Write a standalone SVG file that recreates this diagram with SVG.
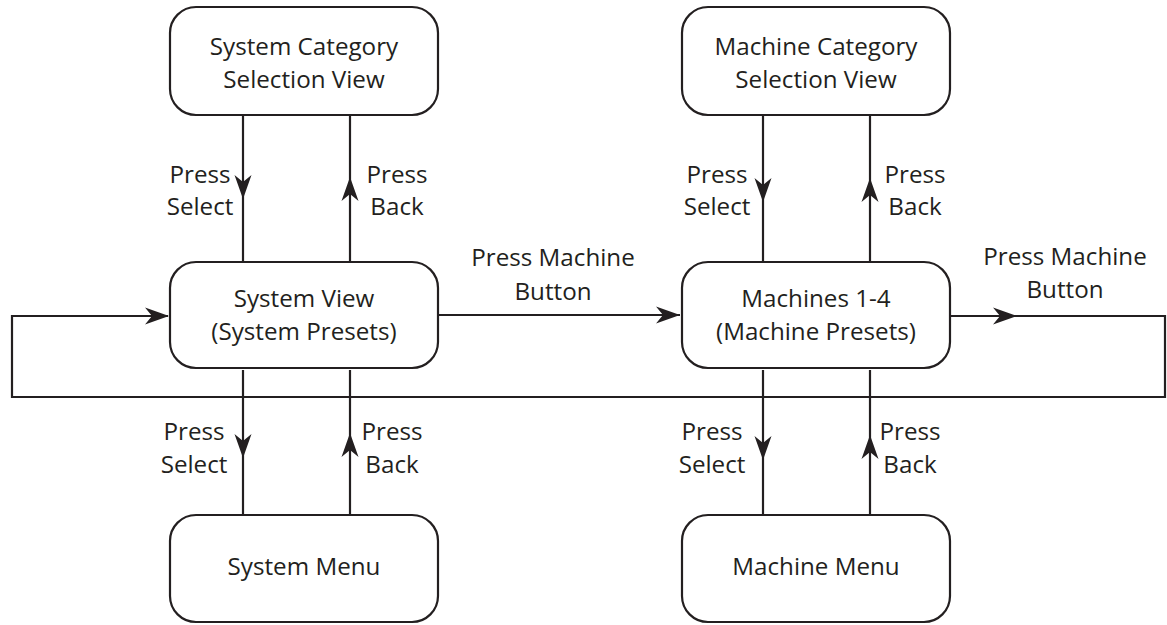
<svg xmlns="http://www.w3.org/2000/svg" xmlns:xlink="http://www.w3.org/1999/xlink" width="1167" height="625" viewBox="0 0 1167 625">
<style>
  .box { fill: #ffffff; stroke: #231f20; stroke-width: 2.2; }
  .ln { fill: none; stroke: #231f20; stroke-width: 2.2; }
  .ah { fill: #231f20; stroke: none; }
  text { font-family: "Open Sans", "Noto Sans", "Liberation Sans", sans-serif; font-size: 24.2px; fill: #231f20; text-anchor: middle; }
</style>
<defs>
  <path id="ah" class="ah" d="M0,0 L-24,-8.5 L-17,0 L-24,8.5 Z"/>
</defs>
<rect width="1167" height="625" fill="#ffffff"/>

<g id="connectors">
  <path class="ln" d="M243,116 V262"/>
  <path class="ln" d="M350,116 V262"/>
  <path class="ln" d="M763,116 V262"/>
  <path class="ln" d="M870,116 V262"/>
  <path class="ln" d="M243,370 V515"/>
  <path class="ln" d="M350,370 V515"/>
  <path class="ln" d="M763,370 V515"/>
  <path class="ln" d="M870,370 V515"/>
  <path class="ln" d="M438,315 H680"/>
  <path class="ln" d="M951,316 H1165 V397 H12 V316 H168"/>
  <use xlink:href="#ah" href="#ah" transform="translate(243,199) rotate(90)"/>
  <use xlink:href="#ah" href="#ah" transform="translate(350,177) rotate(-90)"/>
  <use xlink:href="#ah" href="#ah" transform="translate(763,202) rotate(90)"/>
  <use xlink:href="#ah" href="#ah" transform="translate(870,178) rotate(-90)"/>
  <use xlink:href="#ah" href="#ah" transform="translate(243,458) rotate(90)"/>
  <use xlink:href="#ah" href="#ah" transform="translate(350,433) rotate(-90)"/>
  <use xlink:href="#ah" href="#ah" transform="translate(763,460) rotate(90)"/>
  <use xlink:href="#ah" href="#ah" transform="translate(870,435) rotate(-90)"/>
  <use xlink:href="#ah" href="#ah" transform="translate(680,315)"/>
  <use xlink:href="#ah" href="#ah" transform="translate(1017,316)"/>
  <use xlink:href="#ah" href="#ah" transform="translate(169,316)"/>
  <text x="200" y="183">Press</text>
  <text x="200" y="215">Select</text>
  <text x="397" y="183">Press</text>
  <text x="397" y="215">Back</text>
  <text x="717" y="183">Press</text>
  <text x="717" y="215">Select</text>
  <text x="915" y="183">Press</text>
  <text x="915" y="215">Back</text>
  <text x="194" y="440">Press</text>
  <text x="194" y="473">Select</text>
  <text x="392" y="440">Press</text>
  <text x="392" y="473">Back</text>
  <text x="712" y="440">Press</text>
  <text x="712" y="473">Select</text>
  <text x="910" y="440">Press</text>
  <text x="910" y="473">Back</text>
  <text x="553" y="266">Press Machine</text>
  <text x="553" y="300">Button</text>
  <text x="1065" y="265">Press Machine</text>
  <text x="1065" y="298">Button</text>
</g>

<g id="system-category">
  <rect class="box" x="170" y="7" width="268" height="108" rx="26"/>
  <text x="304" y="55">System Category</text>
  <text x="304" y="88">Selection View</text>
</g>
<g id="machine-category">
  <rect class="box" x="682" y="7" width="268" height="108" rx="26"/>
  <text x="816" y="55">Machine Category</text>
  <text x="816" y="88">Selection View</text>
</g>
<g id="system-view">
  <rect class="box" x="170" y="262" width="268" height="106" rx="26"/>
  <text x="304" y="307">System View</text>
  <text x="304" y="340">(System Presets)</text>
</g>
<g id="machines">
  <rect class="box" x="682" y="262" width="268" height="106" rx="26"/>
  <text x="816" y="307">Machines 1-4</text>
  <text x="816" y="340">(Machine Presets)</text>
</g>
<g id="system-menu">
  <rect class="box" x="170" y="515" width="268" height="107" rx="26"/>
  <text x="304" y="575">System Menu</text>
</g>
<g id="machine-menu">
  <rect class="box" x="682" y="515" width="268" height="107" rx="26"/>
  <text x="816" y="575">Machine Menu</text>
</g>
</svg>
